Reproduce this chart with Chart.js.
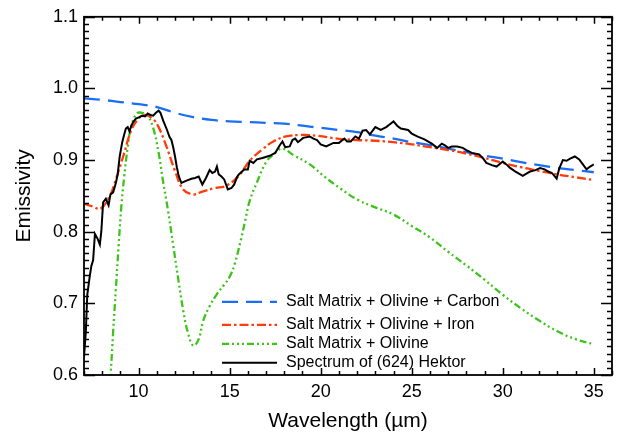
<!DOCTYPE html>
<html lang="en">
<head>
  <meta charset="UTF-8">
  <title>Emissivity of (624) Hektor</title>
  <script src="https://cdn.jsdelivr.net/npm/chart.js"></script>
  <style>
    html, body { margin: 0; padding: 0; background: #fff; }
    #chart { display: block; }
  </style>
</head>
<body>
  <canvas id="chart" width="620" height="436"></canvas>

<script>
  // axis ticks
  const xTickVals = [10, 15, 20, 25, 30, 35];
  const yTickVals = [0.6, 0.7, 0.8, 0.9, 1.0, 1.1];

  // Salt Matrix + Olivine + Carbon
  const carbonX = [7, 8, 9, 10, 11, 12, 13, 14, 15, 16, 17, 18, 19, 20, 21, 22, 23, 24, 25, 26, 27, 28, 29, 30, 31, 32, 33, 34, 35];
  const carbonY = [0.986, 0.984, 0.981, 0.978, 0.974, 0.966, 0.960, 0.956, 0.954, 0.953, 0.952, 0.951, 0.948, 0.945, 0.942, 0.939, 0.934, 0.930, 0.925, 0.921, 0.916, 0.911, 0.906, 0.902, 0.897, 0.893, 0.889, 0.886, 0.883];

  // Salt Matrix + Olivine + Iron
  const ironX = [7, 7.5, 7.9, 8.4, 8.75, 9.2, 9.6, 10.0, 10.35, 10.8, 11.1, 11.5, 12.0, 12.45, 13.0, 13.5, 14.2, 14.8, 15.5, 16.1, 16.8, 17.4, 18.1, 18.9, 19.8, 20.9, 22, 23, 24, 25, 26, 27, 28, 29, 30, 31, 32, 33, 34, 35];
  const ironY = [0.839, 0.835, 0.832, 0.849, 0.873, 0.909, 0.942, 0.958, 0.963, 0.957, 0.946, 0.921, 0.885, 0.859, 0.852, 0.856, 0.861, 0.864, 0.878, 0.899, 0.915, 0.926, 0.933, 0.935, 0.934, 0.930, 0.928, 0.927, 0.925, 0.922, 0.918, 0.914, 0.909, 0.903, 0.896, 0.890, 0.885, 0.880, 0.876, 0.872];

  // Salt Matrix + Olivine
  const olivineX = [8.3, 8.46, 8.6, 8.75, 8.9, 9.05, 9.2, 9.4, 9.6, 9.9, 10.2, 10.5, 10.8, 11.1, 11.35, 11.6, 11.9, 12.2, 12.45, 12.7, 13.0, 13.3, 13.55, 13.9, 14.3, 14.7, 15.0, 15.3, 15.6, 15.85, 16.1, 16.5, 17.0, 17.5, 17.9, 18.5, 19.4, 20.2, 21.1, 22.0, 23.0, 24.0, 25.0, 26.0, 27.0, 28.0, 29.0, 30.0, 31.0, 32.0, 33.0, 34.0, 35.0];
  const olivineY = [0.55, 0.60, 0.66, 0.72, 0.78, 0.835, 0.875, 0.918, 0.948, 0.965, 0.966, 0.962, 0.945, 0.910, 0.869, 0.832, 0.781, 0.730, 0.690, 0.660, 0.641, 0.650, 0.676, 0.696, 0.713, 0.726, 0.737, 0.757, 0.787, 0.815, 0.843, 0.869, 0.897, 0.910, 0.916, 0.907, 0.894, 0.877, 0.860, 0.845, 0.834, 0.824, 0.808, 0.792, 0.772, 0.753, 0.733, 0.712, 0.693, 0.676, 0.661, 0.650, 0.643];

  // Spectrum of (624) Hektor
  const hektorX = [7.0, 7.1, 7.18, 7.3, 7.4, 7.5, 7.6, 7.75, 7.87, 7.95, 8.05, 8.2, 8.35, 8.45, 8.6, 8.75, 8.85, 8.96, 9.1, 9.2, 9.3, 9.4, 9.5, 9.6, 9.7, 9.85, 10.04, 10.2, 10.35, 10.5, 10.65, 10.8, 10.95, 11.1, 11.2, 11.35, 11.56, 11.7, 11.8, 11.9, 12.0, 12.1, 12.2, 12.35, 12.6, 12.9, 13.1, 13.3, 13.5, 13.7, 13.9, 14.05, 14.2, 14.3, 14.4, 14.55, 14.7, 14.9, 15.1, 15.25, 15.4, 15.5, 15.8, 16.0, 16.1, 16.3, 16.5, 16.8, 17.2, 17.5, 17.76, 17.9, 18.05, 18.3, 18.45, 18.6, 18.75, 18.9, 19.04, 19.4, 19.6, 19.8, 20.0, 20.3, 20.7, 21.0, 21.3, 21.45, 21.65, 21.9, 22.1, 22.3, 22.5, 22.7, 23.0, 23.3, 23.6, 23.8, 24.0, 24.2, 24.4, 24.8, 25.0, 25.3, 25.7, 26.1, 26.4, 26.65, 26.8, 27.0, 27.2, 27.5, 27.8, 28.0, 28.3, 28.7, 28.9, 29.1, 29.4, 29.66, 30.0, 30.2, 30.4, 30.7, 31.1, 31.3, 31.5, 31.8, 32.05, 32.3, 32.5, 32.7, 32.96, 33.1, 33.3, 33.5, 33.7, 33.96, 34.2, 34.4, 34.6, 34.8, 35.0];
  const hektorY = [0.625, 0.660, 0.712, 0.735, 0.752, 0.760, 0.797, 0.790, 0.782, 0.800, 0.841, 0.846, 0.837, 0.852, 0.855, 0.868, 0.880, 0.905, 0.925, 0.935, 0.944, 0.946, 0.940, 0.948, 0.953, 0.958, 0.960, 0.962, 0.961, 0.965, 0.963, 0.962, 0.966, 0.969, 0.966, 0.955, 0.942, 0.932, 0.928, 0.918, 0.905, 0.890, 0.878, 0.868, 0.871, 0.874, 0.875, 0.877, 0.866, 0.875, 0.886, 0.882, 0.884, 0.891, 0.880, 0.877, 0.873, 0.859, 0.861, 0.866, 0.876, 0.880, 0.887, 0.887, 0.899, 0.896, 0.901, 0.903, 0.906, 0.910, 0.921, 0.926, 0.918, 0.919, 0.928, 0.930, 0.925, 0.928, 0.931, 0.933, 0.930, 0.928, 0.922, 0.919, 0.924, 0.924, 0.930, 0.926, 0.926, 0.933, 0.930, 0.941, 0.942, 0.936, 0.946, 0.942, 0.946, 0.950, 0.954, 0.948, 0.944, 0.942, 0.937, 0.933, 0.929, 0.923, 0.917, 0.923, 0.921, 0.917, 0.919, 0.919, 0.917, 0.914, 0.910, 0.908, 0.903, 0.896, 0.893, 0.891, 0.898, 0.894, 0.889, 0.884, 0.878, 0.881, 0.884, 0.886, 0.889, 0.887, 0.884, 0.882, 0.874, 0.888, 0.900, 0.899, 0.902, 0.905, 0.901, 0.894, 0.887, 0.891, 0.894];

  const FONT = "'Liberation Sans', Arial, Helvetica, sans-serif";

  function pairs(xs, ys) {
    return xs.map((x, i) => ({ x: x, y: ys[i] }));
  }

  // box frame with inward ticks on all four sides
  const frameTicks = {
    id: 'frameTicks',
    afterDatasetsDraw(chart) {
      const { ctx, chartArea: a, scales: { x, y } } = chart;
      ctx.save();
      ctx.strokeStyle = '#000';
      ctx.lineWidth = 1.5;
      ctx.beginPath();
      for (let v = Math.ceil(x.min); v <= x.max; v++) {
        const px = Math.round(x.getPixelForValue(v)) + 0.5;
        const len = v % 5 === 0 ? 7 : 4;
        ctx.moveTo(px, a.bottom); ctx.lineTo(px, a.bottom - len);
        ctx.moveTo(px, a.top); ctx.lineTo(px, a.top + len);
      }
      for (let i = Math.round(y.min * 100); i <= Math.round(y.max * 100); i++) {
        const py = Math.round(y.getPixelForValue(i / 100)) + 0.5;
        const len = i % 10 === 0 ? 11 : 5;
        ctx.moveTo(a.left, py); ctx.lineTo(a.left + len, py);
        ctx.moveTo(a.right, py); ctx.lineTo(a.right - len, py);
      }
      ctx.stroke();
      ctx.lineWidth = 1.8;
      ctx.strokeRect(a.left, a.top, a.right - a.left, a.bottom - a.top);
      ctx.restore();
    }
  };

  // legend drawn inside the plot, like the original
  const insideLegend = {
    id: 'insideLegend',
    afterDraw(chart) {
      const { ctx, chartArea: a } = chart;
      const rows = [285, 308, 327, 346];
      ctx.save();
      ctx.font = '16px ' + FONT;
      ctx.textBaseline = 'middle';
      ctx.fillStyle = '#000';
      chart.data.datasets.forEach((ds, i) => {
        const yy = a.top + rows[i];
        ctx.beginPath();
        ctx.setLineDash(ds.borderDash || []);
        ctx.strokeStyle = ds.borderColor;
        ctx.lineWidth = ds.borderWidth;
        ctx.moveTo(a.left + 138, yy);
        ctx.lineTo(a.left + 193, yy);
        ctx.stroke();
        ctx.setLineDash([]);
        ctx.fillText(ds.label, a.left + 202, yy);
      });
      ctx.restore();
    }
  };

  new Chart(document.getElementById('chart').getContext('2d'), {
    type: 'line',
    data: {
      datasets: [
        {
          label: 'Salt Matrix + Olivine + Carbon',
          data: pairs(carbonX, carbonY),
          borderColor: '#1a6ef5',
          borderWidth: 2.3,
          borderDash: [16, 8],
          tension: 0.4,
          order: 2
        },
        {
          label: 'Salt Matrix + Olivine + Iron',
          data: pairs(ironX, ironY),
          borderColor: '#ff3b0a',
          borderWidth: 2.3,
          borderDash: [9, 3, 2.5, 3],
          tension: 0.4,
          order: 1
        },
        {
          label: 'Salt Matrix + Olivine',
          data: pairs(olivineX, olivineY),
          borderColor: '#3cc41a',
          borderWidth: 2.3,
          borderDash: [7, 3, 2, 3, 2, 3, 2, 3],
          tension: 0.4,
          order: 3
        },
        {
          label: 'Spectrum of (624) Hektor',
          data: pairs(hektorX, hektorY),
          borderColor: '#000',
          borderWidth: 2,
          tension: 0,
          order: 0
        }
      ]
    },
    options: {
      responsive: false,
      animation: false,
      events: [],
      layout: { padding: { left: 0, right: 8, top: 12, bottom: 0 } },
      elements: { point: { radius: 0 } },
      plugins: {
        legend: { display: false },
        tooltip: { enabled: false }
      },
      scales: {
        x: {
          type: 'linear',
          min: 7,
          max: 36,
          grid: { display: false, drawTicks: false },
          border: { display: false },
          afterBuildTicks: s => { s.ticks = xTickVals.map(v => ({ value: v })); },
          afterFit: s => { s.height = 61; },
          ticks: {
            padding: 6,
            maxRotation: 0,
            color: '#000',
            font: { family: FONT, size: 18 }
          },
          title: {
            display: true,
            text: 'Wavelength (\u00b5m)',
            color: '#000',
            padding: { top: 0, bottom: 2 },
            font: { family: FONT, size: 21 }
          }
        },
        y: {
          type: 'linear',
          min: 0.6,
          max: 1.1,
          grid: { display: false, drawTicks: false },
          border: { display: false },
          afterBuildTicks: s => { s.ticks = yTickVals.map(v => ({ value: v })); },
          afterFit: s => { s.width = 84; },
          ticks: {
            padding: 6,
            color: '#000',
            font: { family: FONT, size: 18 },
            callback: v => v.toFixed(1)
          },
          title: {
            display: true,
            text: 'Emissivity',
            color: '#000',
            padding: { top: 12, bottom: 0 },
            font: { family: FONT, size: 21 }
          }
        }
      }
    },
    plugins: [frameTicks, insideLegend]
  });
</script>
</body>
</html>
